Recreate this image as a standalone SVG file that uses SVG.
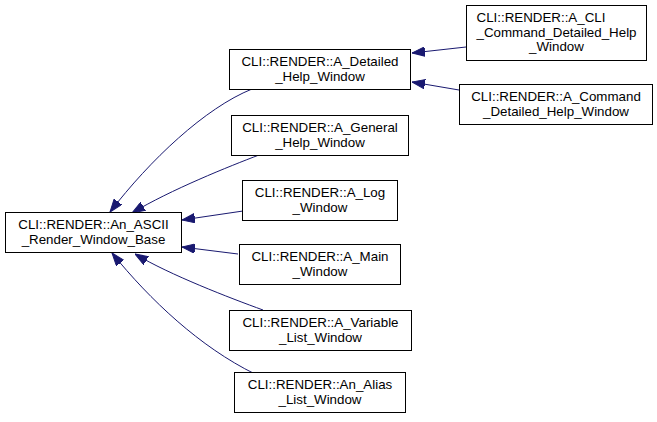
<svg xmlns="http://www.w3.org/2000/svg" width="657" height="422" viewBox="0 0 657 422">
<defs>
<style>
.node rect{fill:#ffffff;stroke:#000000;stroke-width:1}
.node text{font-family:"Liberation Sans",Arial,Helvetica,sans-serif;font-size:13.33px;fill:#000000;text-anchor:middle}
.edge{fill:none;stroke:#191970;stroke-width:1;marker-end:url(#ah)}
</style>
<marker id="ah" viewBox="0 0 13 10" refX="13" refY="5" markerWidth="13" markerHeight="10" markerUnits="userSpaceOnUse" orient="auto">
<path d="M0,0.3 L13,5 L0,9.7 Z" fill="#191970" stroke="#191970" stroke-width="1"/>
</marker>
</defs>
<rect width="657" height="422" fill="#ffffff"/>
<g id="edges">
<path class="edge" d="M252,89 C205,108 150,160 110,212"/>
<path class="edge" d="M259,155 C230,166 170,190 132,213"/>
<path class="edge" d="M243,211 L182,220"/>
<path class="edge" d="M238,254 L182,247"/>
<path class="edge" d="M263,310 C230,298 170,275 135,254"/>
<path class="edge" d="M255,374 C200,347 150,300 112,253"/>
<path class="edge" d="M466,47 L412,53"/>
<path class="edge" d="M459,90 L412,82"/>
</g>
<g id="base" class="node">
<rect x="5.5" y="212.5" width="176" height="40"/>
<text x="93.5" y="229">CLI::RENDER::An_ASCII</text>
<text x="93.5" y="243.5">_Render_Window_Base</text>
</g>
<g id="detailed" class="node">
<rect x="229.5" y="49.5" width="181" height="40"/>
<text x="320" y="66">CLI::RENDER::A_Detailed</text>
<text x="320" y="80.5">_Help_Window</text>
</g>
<g id="general" class="node">
<rect x="231.5" y="115.5" width="177" height="40"/>
<text x="320" y="132">CLI::RENDER::A_General</text>
<text x="320" y="146.5">_Help_Window</text>
</g>
<g id="log" class="node">
<rect x="242.5" y="180.5" width="155" height="40"/>
<text x="320" y="197">CLI::RENDER::A_Log</text>
<text x="320" y="211.5">_Window</text>
</g>
<g id="main" class="node">
<rect x="239.5" y="244.5" width="161" height="40"/>
<text x="320" y="261">CLI::RENDER::A_Main</text>
<text x="320" y="275.5">_Window</text>
</g>
<g id="variable" class="node">
<rect x="229.5" y="310.5" width="182" height="40"/>
<text x="320.5" y="327">CLI::RENDER::A_Variable</text>
<text x="320.5" y="341.5">_List_Window</text>
</g>
<g id="alias" class="node">
<rect x="234.5" y="372.5" width="171" height="40"/>
<text x="320" y="389">CLI::RENDER::An_Alias</text>
<text x="320" y="403.5">_List_Window</text>
</g>
<g id="cli_cmd" class="node">
<rect x="466.5" y="5.5" width="180" height="55"/>
<text x="476.5" y="22" style="text-anchor:start">CLI::RENDER::A_CLI</text>
<text x="556.5" y="36.5">_Command_Detailed_Help</text>
<text x="556.5" y="51">_Window</text>
</g>
<g id="cmd" class="node">
<rect x="459.5" y="84.5" width="193" height="40"/>
<text x="556" y="101">CLI::RENDER::A_Command</text>
<text x="556" y="115.5">_Detailed_Help_Window</text>
</g>
</svg>
